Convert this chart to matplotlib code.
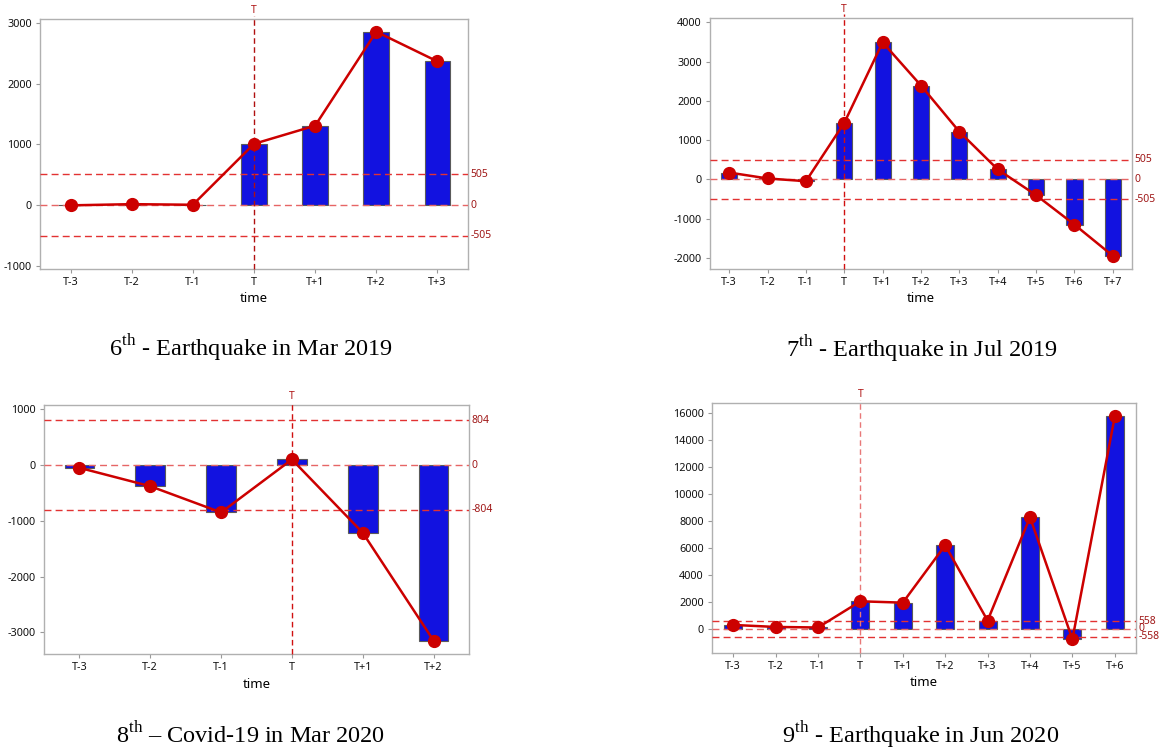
import matplotlib
matplotlib.use("Agg")
from matplotlib import pyplot as plt
from matplotlib import transforms
import numpy as np

plt.rcParams['font.family'] = ['Noto Sans', 'DejaVu Sans']
plt.rcParams['axes.unicode_minus'] = False
plt.rcParams['mathtext.fontset'] = 'custom'
plt.rcParams['mathtext.rm'] = 'Liberation Serif'

# data
labels1 = ['T-3', 'T-2', 'T-1', 'T', 'T+1', 'T+2', 'T+3']
values1 = [-5, 15, 5, 1010, 1310, 2860, 2370]
limit1 = 505

labels2 = ['T-3', 'T-2', 'T-1', 'T', 'T+1', 'T+2', 'T+3', 'T+4', 'T+5', 'T+6', 'T+7']
values2 = [175, 25, -45, 1440, 3490, 2390, 1215, 255, -400, -1150, -1945]
limit2 = 505

labels3 = ['T-3', 'T-2', 'T-1', 'T', 'T+1', 'T+2']
values3 = [-50, -380, -850, 100, -1215, -3150]
limit3 = 804

labels4 = ['T-3', 'T-2', 'T-1', 'T', 'T+1', 'T+2', 'T+3', 'T+4', 'T+5', 'T+6']
values4 = [300, 150, 110, 2050, 1950, 6200, 620, 8280, -760, 15750]
limit4 = 558

captions = [r'6$^{\mathrm{th}}$ - Earthquake in Mar 2019',
            r'7$^{\mathrm{th}}$ - Earthquake in Jul 2019',
            r'8$^{\mathrm{th}}$ – Covid-19 in Mar 2020',
            r'9$^{\mathrm{th}}$ - Earthquake in Jun 2020']

W, H = 1172, 749
fig = plt.figure(figsize=(W / 100, H / 100), dpi=100)


def panel(box, labels, values, limit, ylim, yticks, tcolor):
    x0, x1, y0, y1 = box
    ax = fig.add_axes([x0 / W, 1 - y1 / H, (x1 - x0) / W, (y1 - y0) / H])
    x = np.arange(len(labels))
    ax.bar(x, values, width=0.42, color='#1212e0', edgecolor='#5a5a5a', linewidth=0.8, zorder=2)
    ax.axhline(limit, color='#e23232', ls=(0, (5, 3)), lw=1.0, zorder=3)
    ax.axhline(-limit, color='#e23232', ls=(0, (5, 3)), lw=1.0, zorder=3)
    ax.axhline(0, color='#e66565', ls=(0, (5, 3)), lw=1.0, zorder=3)
    ti = labels.index('T')
    tr = transforms.blended_transform_factory(ax.transData, ax.transAxes)
    ax.plot([ti, ti], [0, 1.014], color=tcolor, ls=(0, (4, 2.5)), lw=1.0,
            transform=tr, clip_on=False, zorder=3)
    ax.text(ti, 1.012, 'T', transform=tr, ha='center', va='bottom', fontsize=7.5, color='#b01818')
    ax.plot(x, values, color='#cc0000', lw=1.8, marker='o', ms=8.5, zorder=5)
    for v, s in [(limit, str(limit)), (0, '0'), (-limit, '-' + str(limit))]:
        ax.text(1.006, v, s, transform=transforms.blended_transform_factory(ax.transAxes, ax.transData),
                ha='left', va='center', fontsize=7.5, color='#a01818')
    ax.set_xlim(-0.5, len(labels) - 0.5)
    ax.set_ylim(*ylim)
    ax.set_xticks(x)
    ax.set_xticklabels(labels)
    ax.set_yticks(yticks)
    ax.tick_params(labelsize=7.8, labelcolor='#111111', length=3, color='#999999', pad=3)
    for sp in ax.spines.values():
        sp.set_color('#b0b0b0')
        sp.set_linewidth(1.0)
    ax.set_xlabel('time', fontsize=9.5, fontweight='semibold', labelpad=3)
    return ax


panel((40, 468, 19, 269), labels1, values1, limit1, (-1055, 3070), np.arange(-1000, 3001, 1000), '#b01010')
panel((710, 1132, 18, 269), labels2, values2, limit2, (-2280, 4110), np.arange(-2000, 4001, 1000), '#d01010')
panel((44, 469, 405, 654), labels3, values3, limit3, (-3390, 1077), np.arange(-3000, 1001, 1000), '#d01010')
panel((712, 1136, 403, 653), labels4, values4, limit4, (-1780, 16740), np.arange(0, 16001, 2000), '#e87878')

for (cx, cy), txt in zip([(251, 348), (922, 349), (251, 735), (921, 735)], captions):
    fig.text(cx / W, 1 - cy / H, txt, ha='center', va='center', fontsize=17.5,
             family='Liberation Serif', color='black')

fig.savefig('out.png', dpi=100)
